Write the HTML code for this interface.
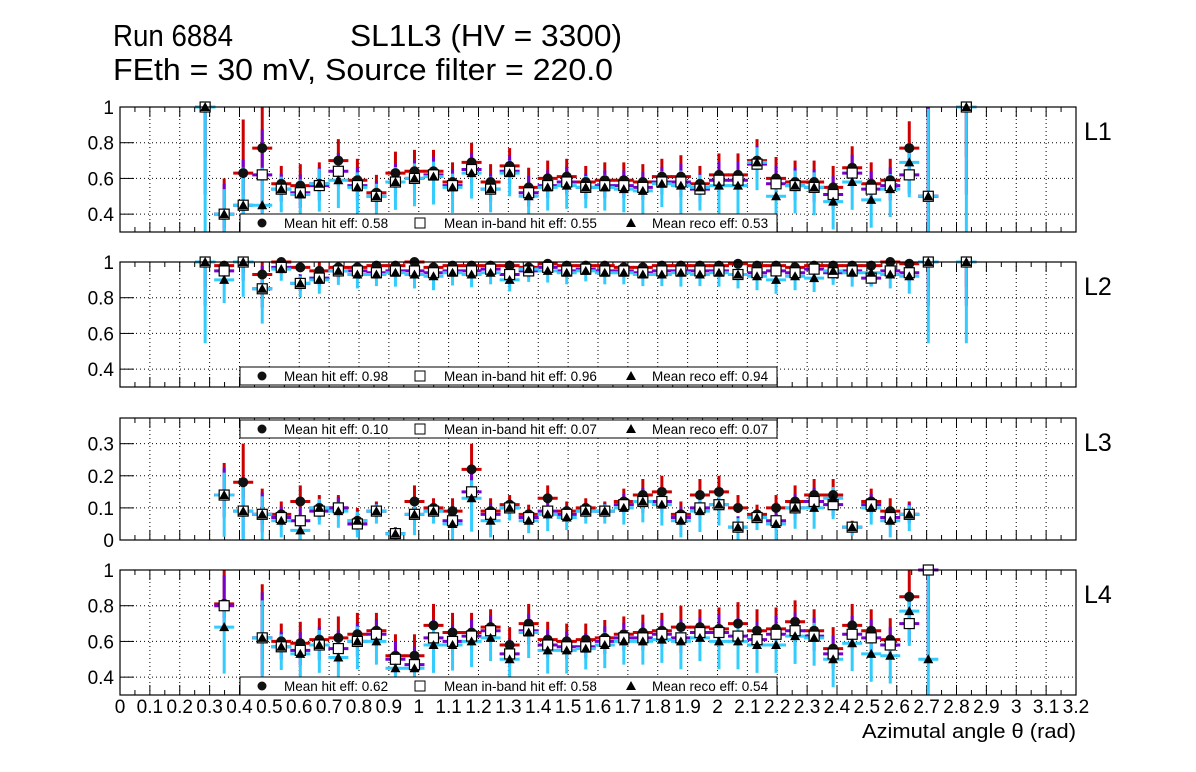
<!DOCTYPE html>
<html><head><meta charset="utf-8"><style>
body{margin:0;background:#fff;}
svg{display:block;font-family:"Liberation Sans",sans-serif;}
</style></head><body>
<svg id="c" width="1196" height="772">
<text x="113" y="46" font-size="31" textLength="120" lengthAdjust="spacingAndGlyphs">Run 6884</text>
<text x="350" y="46" font-size="31" textLength="272" lengthAdjust="spacingAndGlyphs">SL1L3 (HV = 3300)</text>
<text x="113" y="80" font-size="31" textLength="500" lengthAdjust="spacingAndGlyphs">FEth = 30 mV, Source filter = 220.0</text>
<text x="862" y="738" font-size="20" textLength="214" lengthAdjust="spacingAndGlyphs">Azimutal angle θ (rad)</text>
</svg>
<script>
const X0 = 0.285, DX = 0.0637;
const hit1 = [1,0.40,0.63,0.77,0.57,0.56,0.57,0.70,0.59,0.52,0.63,0.64,0.64,0.58,0.69,0.58,0.67,0.55,0.60,0.61,0.58,0.59,0.59,0.58,0.61,0.61,0.57,0.62,0.62,0.70,0.60,0.58,0.58,0.55,0.66,0.57,0.59,0.77,0.50,null,1];
const inb1 = [1,0.40,0.45,0.62,0.54,0.52,0.56,0.64,0.56,0.50,0.58,0.60,0.62,0.56,0.65,0.54,0.64,0.52,0.56,0.58,0.55,0.56,0.56,0.55,0.58,0.58,0.54,0.59,0.59,0.68,0.57,0.56,0.55,0.51,0.63,0.54,0.56,0.62,0.50,null,1];
const rec1 = [1,0.40,0.45,0.45,0.54,0.51,0.57,0.59,0.55,0.50,0.58,0.60,0.61,0.55,0.63,0.54,0.63,0.50,0.55,0.56,0.55,0.55,0.54,0.53,0.57,0.56,0.55,0.56,0.56,0.69,0.50,0.56,0.55,0.47,0.58,0.48,0.54,0.69,0.50,null,1];
const hit2 = [1,0.98,1,0.93,1.0,0.97,0.95,0.97,0.97,0.98,0.98,1.0,0.97,0.98,0.98,0.98,0.98,0.97,0.99,0.98,0.98,0.98,0.97,0.97,0.98,0.98,0.98,0.98,0.99,0.98,0.98,0.97,0.98,0.98,0.98,0.98,1.0,0.99,1,null,1];
const inb2 = [1,0.95,1,0.85,0.97,0.88,0.91,0.95,0.95,0.94,0.95,0.95,0.94,0.95,0.95,0.96,0.93,0.95,0.97,0.95,0.96,0.95,0.95,0.94,0.95,0.95,0.95,0.95,0.93,0.94,0.95,0.94,0.96,0.94,0.95,0.91,0.95,0.94,1,null,1];
const rec2 = [1,0.90,1,0.85,0.96,0.88,0.90,0.95,0.93,0.93,0.94,0.93,0.92,0.94,0.93,0.94,0.90,0.96,0.95,0.94,0.95,0.94,0.94,0.93,0.93,0.94,0.93,0.94,0.93,0.92,0.90,0.92,0.91,0.95,0.94,0.94,0.93,0.92,1,null,1];
const hit3 = [null,0.14,0.18,0.08,0.08,0.12,0.10,0.10,0.06,0.09,0.02,0.12,0.10,0.09,0.22,0.09,0.11,0.08,0.13,0.09,0.10,0.09,0.12,0.14,0.15,0.08,0.14,0.15,0.10,0.08,0.10,0.12,0.14,0.14,0.04,0.12,0.09,0.08,null,null,null];
const inb3 = [null,0.14,0.09,0.08,0.07,0.06,0.09,0.10,0.05,0.09,0.02,0.08,0.09,0.06,0.15,0.08,0.10,0.07,0.09,0.08,0.09,0.09,0.11,0.12,0.12,0.07,0.10,0.11,0.04,0.07,0.06,0.10,0.12,0.11,0.04,0.11,0.07,0.08,null,null,null];
const rec3 = [null,0.14,0.09,0.08,0.06,0.03,0.10,0.09,0.06,0.09,0.02,0.08,0.09,0.05,0.13,0.06,0.10,0.06,0.08,0.07,0.09,0.09,0.10,0.12,0.11,0.06,0.09,0.11,0.04,0.07,0.05,0.10,0.10,0.13,0.04,0.10,0.06,0.08,null,null,null];
const hit4 = [null,0.81,null,0.62,0.60,0.59,0.61,0.62,0.64,0.66,0.52,0.52,0.69,0.65,0.65,0.68,0.58,0.70,0.61,0.60,0.61,0.62,0.64,0.65,0.66,0.68,0.68,0.67,0.70,0.66,0.67,0.71,0.66,0.56,0.69,0.66,0.61,0.85,1.0,null,null];
const inb4 = [null,0.80,null,0.62,0.57,0.55,0.58,0.56,0.60,0.64,0.50,0.47,0.62,0.60,0.63,0.66,0.53,0.66,0.58,0.57,0.57,0.60,0.62,0.62,0.64,0.62,0.65,0.65,0.63,0.61,0.64,0.66,0.63,0.53,0.64,0.62,0.58,0.70,1.0,null,null];
const rec4 = [null,0.68,null,0.62,0.57,0.53,0.58,0.51,0.60,0.60,0.45,0.45,0.58,0.58,0.60,0.62,0.50,0.65,0.55,0.55,0.56,0.58,0.60,0.60,0.61,0.60,0.62,0.60,0.60,0.58,0.58,0.63,0.62,0.50,0.59,0.53,0.52,0.77,0.50,null,null];
const errs = [0.7,0.2,0.3,0.3,0.1,0.12,0.12,0.12,0.12,0.1,0.12,0.12,0.12,0.11,0.11,0.1,0.1,0.11,0.1,0.1,0.09,0.1,0.1,0.1,0.1,0.12,0.1,0.12,0.12,0.12,0.12,0.12,0.12,0.12,0.12,0.12,0.12,0.15,0.7,0.5,0.7];
const errs3 = [0,0.1,0.12,0.08,0.04,0.05,0.04,0.04,0.04,0.03,0.02,0.05,0.03,0.04,0.08,0.04,0.03,0.03,0.04,0.03,0.03,0.03,0.04,0.05,0.05,0.04,0.05,0.05,0.04,0.03,0.04,0.05,0.05,0.05,0.02,0.04,0.04,0.04,0,0,0];
const means = [["0.58","0.55","0.53"],["0.98","0.96","0.94"],["0.10","0.07","0.07"],["0.62","0.58","0.54"]];
const xTicks = ["0","0.1","0.2","0.3","0.4","0.5","0.6","0.7","0.8","0.9","1","1.1","1.2","1.3","1.4","1.5","1.6","1.7","1.8","1.9","2","2.1","2.2","2.3","2.4","2.5","2.6","2.7","2.8","2.9","3","3.1","3.2"];

const NS="http://www.w3.org/2000/svg", svg=document.getElementById('c');
function mk(t,a,p){const e=document.createElementNS(NS,t);for(const k in a)e.setAttribute(k,a[k]);(p||svg).appendChild(e);return e;}
const L=120,R=1076;
const sx=v=>L+v/3.2*(R-L);
const panels=[
 {top:107,bot:232,lo:0.3,hi:1.0,ticks:[0.4,0.6,0.8,1],lab:["0.4","0.6","0.8","1"],h:hit1,i:inb1,r:rec1,e:errs,leg:214,name:"L1"},
 {top:262,bot:387,lo:0.3,hi:1.0,ticks:[0.4,0.6,0.8,1],lab:["0.4","0.6","0.8","1"],h:hit2,i:inb2,r:rec2,e:errs.map(v=>v*0.5),leg:367,name:"L2"},
 {top:418,bot:540,lo:0,hi:0.38,ticks:[0,0.1,0.2,0.3],lab:["0","0.1","0.2","0.3"],h:hit3,i:inb3,r:rec3,e:errs3,leg:420,name:"L3"},
 {top:570,bot:695,lo:0.3,hi:1.0,ticks:[0.4,0.6,0.8,1],lab:["0.4","0.6","0.8","1"],h:hit4,i:inb4,r:rec4,e:errs,leg:677,name:"L4"}];
panels.forEach((p,pi)=>{
 const g=mk('g',{});
 
 
 const sy=v=>p.bot-(v-p.lo)/(p.hi-p.lo)*(p.bot-p.top);
 const cl=v=>Math.max(p.top,Math.min(p.bot,v));
 for(let k=1;k<32;k++){const x=sx(k*0.1);mk('line',{x1:x,x2:x,y1:p.top,y2:p.bot,stroke:'#000','stroke-width':1,'stroke-dasharray':'1,3'},g);}
 p.ticks.forEach((t,k)=>{const y=sy(t);
  if(y>p.top+1)mk('line',{x1:L,x2:R,y1:y,y2:y,stroke:'#000','stroke-width':1,'stroke-dasharray':'1,3'},g);
  mk('line',{x1:L,x2:L+14,y1:y,y2:y,stroke:'#000'},g);
  const tx=mk('text',{x:L-6,y:y+7,'font-size':19,'text-anchor':'end'},g);tx.textContent=p.lab[k];
  
  
 });
 for(let k=0;k<=64;k++){const x=sx(k*0.05);const len=k%2?5:10;mk('line',{x1:x,x2:x,y1:p.bot,y2:p.bot-len,stroke:'#000'},g);mk('line',{x1:x,x2:x,y1:p.top,y2:p.top+len,stroke:'#000'},g);}
 const series=[{d:p.h,c:'#cc0000',m:'circle',up:1.0,dn:0.4},{d:p.i,c:'#7700cc',m:'square',up:0.85,dn:0.7},{d:p.r,c:'#33ccff',m:'tri',up:0.7,dn:1.3}];
 series.forEach(s=>{
  s.d.forEach((v,k)=>{ if(v==null)return;
   const x=sx(X0+k*DX), y=sy(v), e=p.e[k];
   mk('line',{x1:x,x2:x,y1:cl(sy(v+e*s.up)),y2:cl(sy(v-e*s.dn)),stroke:s.c,'stroke-width':3},g);
   mk('line',{x1:x-10,x2:x+10,y1:y,y2:y,stroke:s.c,'stroke-width':3},g);
  });
 });
 series.forEach(s=>{
  s.d.forEach((v,k)=>{ if(v==null)return;
   const x=sx(X0+k*DX), y=sy(v); let el;
   if(s.m=='circle')el=mk('circle',{cx:x,cy:y,r:5,fill:'#111'},g);
   else if(s.m=='square')el=mk('rect',{x:x-5,y:y-5,width:10,height:10,fill:'#fff',stroke:'#000','stroke-width':1.2},g);
   else el=mk('path',{d:`M${x-5},${y+4}L${x+5},${y+4}L${x},${y-5}Z`,fill:'#000'},g);
   
   
  });
 });
 mk('rect',{x:L,y:p.top,width:R-L,height:p.bot-p.top,fill:'none',stroke:'#000','stroke-width':1.2},g);
 const lg=mk('g',{},g);
 
 
 mk('rect',{x:240,y:p.leg,width:537,height:18,fill:'#fff',stroke:'#000'},lg);
 const ly=p.leg+9;
 mk('circle',{cx:262,cy:ly,r:4.5,fill:'#111'},lg);
 mk('rect',{x:415,y:ly-5,width:10,height:10,fill:'#fff',stroke:'#000'},lg);
 mk('path',{d:`M${626},${ly+4}L${636},${ly+4}L${631},${ly-5}Z`,fill:'#000'},lg);
 const t=["Mean hit  eff: "+means[pi][0],"Mean in-band hit eff: "+means[pi][1],"Mean reco eff: "+means[pi][2]];
 [[284,t[0]],[444,t[1]],[652,t[2]]].forEach(a=>{const tx=mk('text',{x:a[0],y:ly+5,'font-size':13.5,'xml:space':'preserve'},lg);tx.textContent=a[1];});
 const nm=mk('text',{x:1084,y:p.top+33,'font-size':25},g);nm.textContent=p.name;
 
 
});
xTicks.forEach((t,k)=>{const tx=mk('text',{x:sx(k*0.1),y:713,'font-size':19,'text-anchor':'middle'});tx.textContent=t;
 
 });
</script>
</body></html>
